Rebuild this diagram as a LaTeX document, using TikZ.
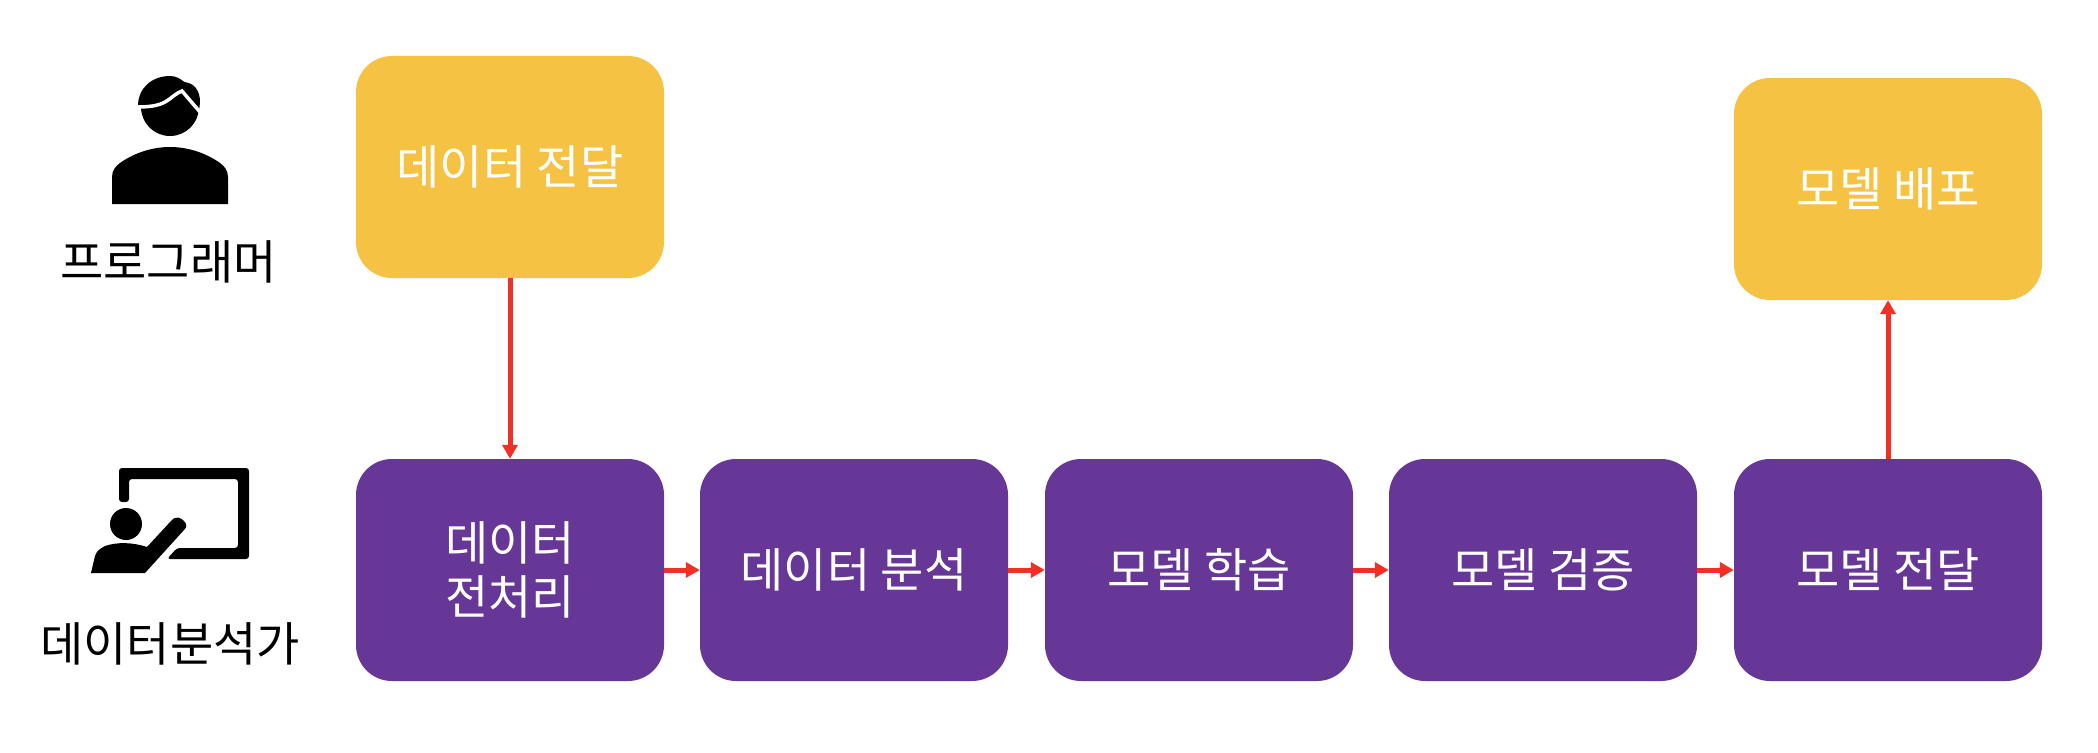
\documentclass[tikz,border=0pt]{standalone}
\usepackage{fontspec}
\setmainfont{Noto Sans CJK KR}
\usetikzlibrary{arrows.meta,calc}
\definecolor{boxyellow}{HTML}{F6C244}
\definecolor{boxpurple}{HTML}{663796}
\definecolor{arrowred}{HTML}{EE3124}
\tikzset{
  x=1pt,y=-1pt,
  flowbox/.style={rounded corners=36pt,minimum width=308pt,minimum height=222pt,inner sep=0pt,text=white,align=center,font=\fontsize{47pt}{54pt}\selectfont},
  oneline/.style={text height=40pt,text depth=6pt},
  yellowbox/.style={flowbox,fill=boxyellow},
  purplebox/.style={flowbox,fill=boxpurple},
  rolelabel/.style={inner sep=0pt,text=black,font=\fontsize{47pt}{54pt}\selectfont},
  flowarrow/.style={draw=arrowred,line width=5pt,-{Triangle[length=14pt,width=15pt]},shorten >=0pt},
}
\begin{document}
\begin{tikzpicture}
\useasboundingbox (0,0) rectangle (2098,752);
\fill[white] (0,0) rectangle (2098,752);

\node[yellowbox,oneline] (send) at (510,167) {데이터 전달};
\node[yellowbox,oneline] (deploy) at (1888,189) {모델 배포};
\node[purplebox] (prep) at (510,570) {데이터\\전처리};
\node[purplebox,oneline] (analysis) at (854,570) {데이터 분석};
\node[purplebox,oneline] (train) at (1199,570) {모델 학습};
\node[purplebox,oneline] (valid) at (1543,570) {모델 검증};
\node[purplebox,oneline] (deliver) at (1888,570) {모델 전달};

\node[rolelabel] (programmer) at (168.5,262) {프로그래머};
\node[rolelabel] (analyst) at (170,644) {데이터분석가};

\draw[flowarrow] (send) -- (prep);
\draw[flowarrow] (prep) -- (analysis);
\draw[flowarrow] (analysis) -- (train);
\draw[flowarrow] (train) -- (valid);
\draw[flowarrow] (valid) -- (deliver);
\draw[flowarrow] (deliver) -- (deploy);

% programmer icon
\fill[black] (112,204) -- (112,177) .. controls (112,170) and (116,166) .. (120,163)
  .. controls (134,153) and (152,147) .. (170,147)
  .. controls (188,147) and (206,153) .. (220,163)
  .. controls (224,166) and (228,170) .. (228,177) -- (228,204) -- cycle;
\fill[black] (170,107) circle[radius=29];
\fill[black] (138,106) .. controls (138,88) and (152,76) .. (170,76)
  .. controls (176,76) and (181,79) .. (184,82)
  .. controls (194,83) and (200,90) .. (200,102)
  -- (199,112) -- (172,92) .. controls (160,98) and (150,106) .. (138,106) -- cycle;
\draw[white,line width=3.5pt] (137,107) .. controls (148,107) and (158,106) .. (165,102)
  .. controls (172,98) and (176,93) .. (182,91) -- (200,112);

% presenter icon
\fill[black,rounded corners=3pt] (119,502) -- (119,468) -- (249,468) -- (249,559) -- (167,559) -- (177,548) -- (238,548) -- (238,479) -- (129,479) -- (129,502) -- cycle;
\fill[black] (126,524) circle[radius=16];
\fill[black] (91,573) -- (95,556) .. controls (97,550) and (100,549) .. (105,546)
  .. controls (117,542) and (132,542) .. (147,547)
  -- (171,521) .. controls (176,515) and (181,518) .. (184,521)
  .. controls (187,524) and (187,527) .. (184,530)
  -- (145,573) -- cycle;
\end{tikzpicture}
\end{document}
